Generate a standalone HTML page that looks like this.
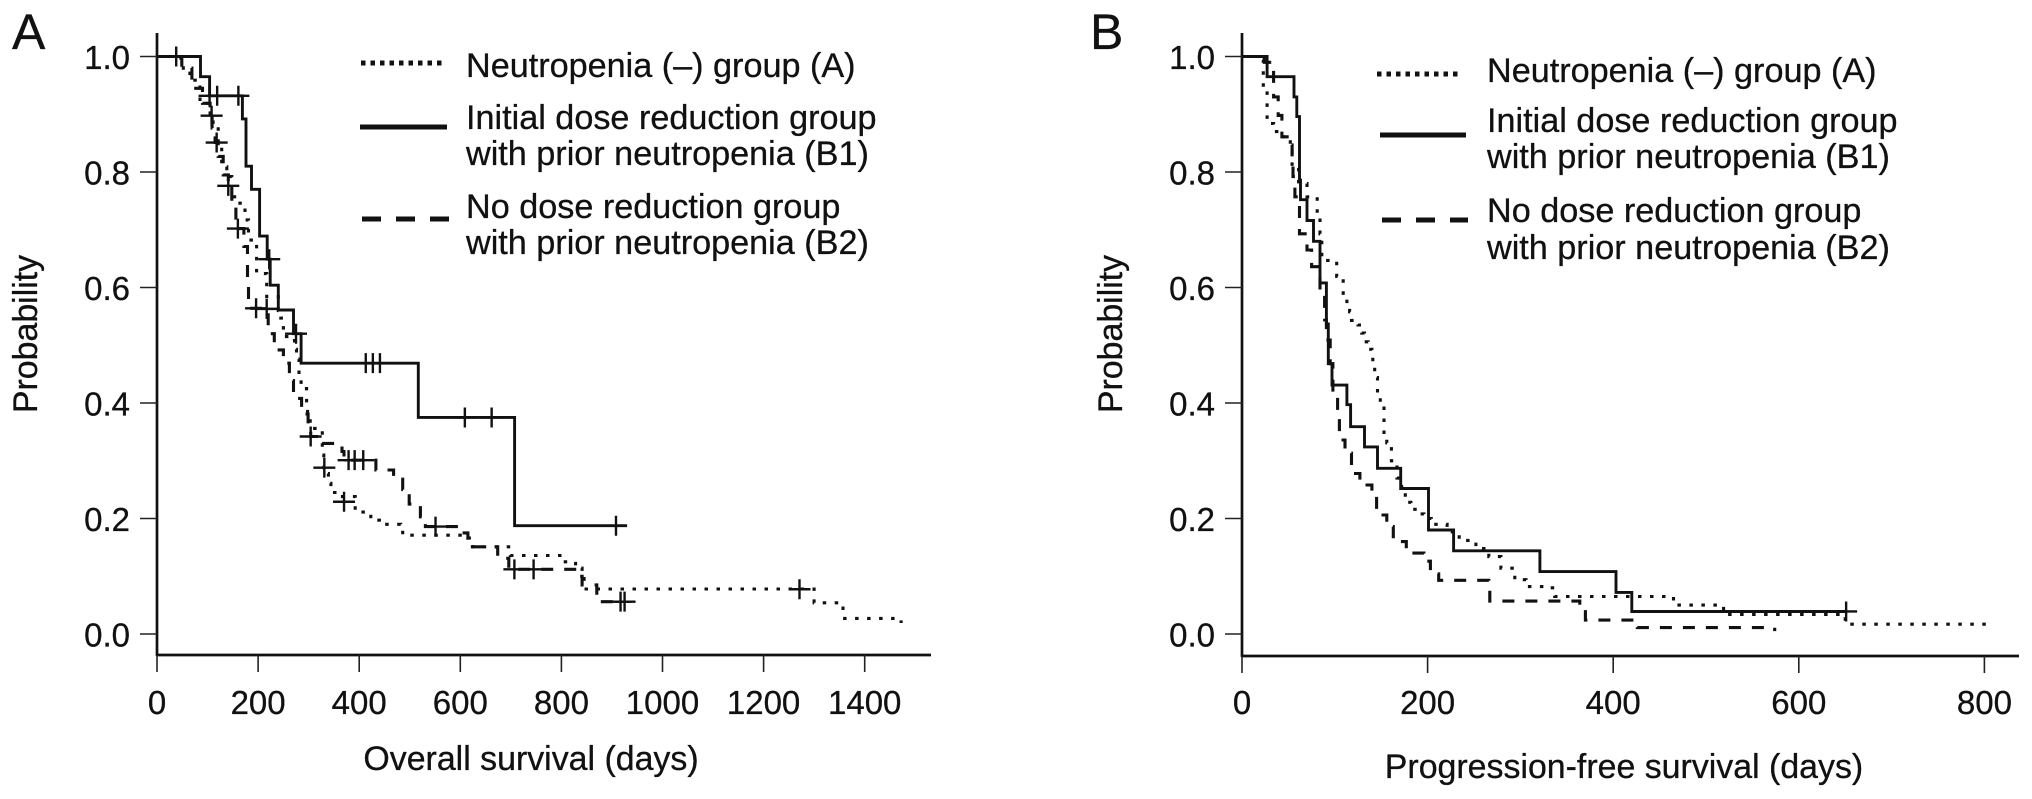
<!DOCTYPE html>
<html lang="en">
<head>
<meta charset="utf-8">
<title>Kaplan-Meier survival curves</title>
<style>
html,body{margin:0;padding:0;background:#fff;}
svg{display:block;}
text{font-family:"Liberation Sans",Arial,sans-serif;fill:#111;stroke:#111;stroke-width:.3px;}
.tick{font-size:33px;}
.title{font-size:33.9px;}
.leg{font-size:34.2px;}
.panel{font-size:50px;}
</style>
</head>
<body>
<svg id="chart" xmlns="http://www.w3.org/2000/svg" width="2032" height="799" viewBox="0 0 2032 799">
  <rect width="2032" height="799" fill="#fff"/>
  <text class="panel" x="12" y="49">A</text>
  <text class="panel" x="1090" y="49">B</text>

  <g>
    <line x1="361" x2="446" y1="63" y2="63" stroke="#111" stroke-width="5" stroke-dasharray="4.5 5"/>
    <text class="leg" x="466" y="77">Neutropenia (–) group (A)</text>
    <line x1="360" x2="447" y1="127" y2="127" stroke="#111" stroke-width="5"/>
    <text class="leg" x="466" y="129">Initial dose reduction group</text>
    <text class="leg" x="466" y="165">with prior neutropenia (B1)</text>
    <line x1="362" x2="449" y1="219" y2="219" stroke="#111" stroke-width="5" stroke-dasharray="19 15"/>
    <text class="leg" x="466" y="218">No dose reduction group</text>
    <text class="leg" x="466" y="254">with prior neutropenia (B2)</text>
  </g>

  <g>
    <line x1="1377" x2="1461" y1="74" y2="74" stroke="#111" stroke-width="5" stroke-dasharray="4.5 5"/>
    <text class="leg" x="1487" y="82">Neutropenia (–) group (A)</text>
    <line x1="1380" x2="1466" y1="135" y2="135" stroke="#111" stroke-width="5"/>
    <text class="leg" x="1487" y="132">Initial dose reduction group</text>
    <text class="leg" x="1487" y="168">with prior neutropenia (B1)</text>
    <line x1="1382" x2="1468" y1="220" y2="220" stroke="#111" stroke-width="5" stroke-dasharray="19 15"/>
    <text class="leg" x="1487" y="222">No dose reduction group</text>
    <text class="leg" x="1487" y="259">with prior neutropenia (B2)</text>
  </g>
</svg>
<script>
// Shared axis tick labels
const probTicks = ['0.0','0.2','0.4','0.6','0.8','1.0'];
const osTicks = [0,200,400,600,800,1000,1200,1400];
const pfsTicks = [0,200,400,600,800];

// Panel A: overall survival, group A (dotted)
const osADays = [39,52,65,85,105,111,121,128,138,148,164,174,181,197,217,240,245,250,272,276,281,285,296,298,303,327,330,339,344,360,392,418,423,440,482,486,591,615,624,699,699,800,803,828,841,845,1300,1300,1353,1357,1465,1472];
const osASurv = [.997,.977,.959,.919,.899,.878,.844,.809,.792,.757,.746,.717,.682,.624,.584,.56,.547,.515,.493,.476,.443,.425,.399,.38,.356,.31,.278,.261,.245,.238,.211,.209,.197,.19,.188,.171,.171,.166,.151,.151,.136,.136,.125,.114,.096,.078,.073,.054,.054,.027,.027,.019];
const osACensorDays = [370,1271];
const osACensorSurv = [.229,.0775];

// Panel A: overall survival, group B1 (solid)
const osB1Days = [86,104,169,176,187,203,218,224,240,270,285,517,707.5,930];
const osB1Surv = [.965,.932,.892,.81,.77,.689,.649,.604,.561,.52,.469,.375,.1875,.1875];
const osB1CensorDays = [38,104,119,161,222,275,413,427,441,609,662,908];
const osB1CensorSurv = [1,.932,.932,.932,.649,.52,.469,.469,.469,.375,.375,.1875];

// Panel A: overall survival, group B2 (dashed)
const osB2Days = [49,69,85,90,105,109,115,121,131,141,148,156,172,179,181,210,220,232,250,262,270,286,299,304,324,366,370,433,468,486,499,521,531,551,597,615,626,674,696,745,811,833,841,870,925];
const osB2Surv = [.98,.945,.945,.919,.8975,.876,.851,.827,.795,.776,.74,.702,.671,.607,.564,.564,.52,.492,.469,.439,.408,.381,.353,.342,.33,.316,.301,.284,.268,.25,.225,.203,.186,.186,.175,.166,.151,.131,.112,.112,.112,.1,.085,.056,.056];
const osB2CensorDays = [108,118,141,160,196,217,304,331,379,391,408,551,707,745,917,925];
const osB2CensorSurv = [.8975,.851,.776,.702,.564,.563,.342,.288,.301,.301,.301,.186,.112,.112,.056,.056];

// Panel B: progression-free survival, group A (dotted)
const pfsADays = [19,23,27,34,41,52,54,61,70,81,84,86,102,109,113,116,118,125,129,132,136,140,141,143,146,146,149,153,153,156,161,161,167,172,176,182,190,196,204,216,221,234,248,252,266,279,294,306,329,337,460,465,518,519,646,650,806];
const pfsASurv = [.994,.942,.884,.87,.861,.844,.809,.78,.757,.728,.693,.647,.619,.59,.571,.558,.543,.535,.521,.506,.493,.479,.461,.444,.429,.413,.397,.382,.346,.331,.317,.3,.27,.249,.228,.216,.208,.2,.19,.19,.177,.162,.162,.148,.134,.114,.094,.082,.08,.065,.065,.05,.05,.034,.034,.017,.017];

// Panel B: progression-free survival, group B1 (solid)
const pfsB1Days = [27,56,59,62,63,70,77,84,91,93,97,113,117,132,146,171,201,228,321,403,420,651];
const pfsB1Surv = [.965,.93,.896,.786,.752,.716,.68,.608,.537,.468,.431,.397,.359,.324,.287,.252,.18,.144,.108,.072,.039,.039];
const pfsB1CensorDays = [651];
const pfsB1CensorSurv = [.039];

// Panel B: progression-free survival, group B2 (dashed)
const pfsB2Days = [24,34,39,43,52,54,55,57,62,70,75,84,89,91,95,98,103,105,111,118,127,140,145,156,163,177,196,203,212,253,266,267,357,364,370,412,426,574];
const pfsB2Surv = [.99,.93,.898,.861,.847,.827,.792,.757,.693,.665,.636,.59,.544,.509,.468,.417,.382,.336,.313,.278,.258,.238,.206,.186,.16,.14,.126,.104,.093,.093,.079,.057,.057,.042,.024,.024,.011,.005];

const NS = 'http://www.w3.org/2000/svg';
const svg = document.getElementById('chart');

function make(tag, parent) {
  const el = document.createElementNS(NS, tag);
  parent.appendChild(el);
  return el;
}
function setAttrs(el, attrs) {
  for (const k in attrs) el.setAttribute(k, attrs[k]);
}
function scaleX(cfg, d) { return cfg.x0 + cfg.pxPerDay * d; }
function scaleY(cfg, p) { return cfg.y0 - cfg.pxPerUnit * p; }

function drawAxes(cfg, prefix, xTicks, xTitle) {
  const g = make('g', svg);
  
  

  const yAxis = make('line', g);
  
  
  setAttrs(yAxis, {x1: cfg.x0, x2: cfg.x0, y1: 33, y2: cfg.axisY + 1, stroke: '#111', 'stroke-width': 2.7});

  const xAxis = make('line', g);
  
  
  setAttrs(xAxis, {x1: cfg.x0, x2: cfg.axisEnd, y1: cfg.axisY, y2: cfg.axisY, stroke: '#111', 'stroke-width': 2.7});

  probTicks.forEach(function (label) {
    const y = scaleY(cfg, parseFloat(label));
    const tick = make('line', g);
    
    
    setAttrs(tick, {x1: cfg.x0 - 17, x2: cfg.x0, y1: y, y2: y, stroke: '#222', 'stroke-width': 1.6});
    const text = make('text', g);
    
    
    setAttrs(text, {x: cfg.x0 - 27, y: y + 12.5, 'text-anchor': 'end', class: 'tick'});
    text.textContent = label;
  });

  xTicks.forEach(function (value) {
    const x = scaleX(cfg, value);
    const tick = make('line', g);
    
    
    setAttrs(tick, {x1: x, x2: x, y1: cfg.axisY, y2: cfg.axisY + 17, stroke: '#222', 'stroke-width': 1.6});
    const text = make('text', g);
    
    
    setAttrs(text, {x: x, y: 714, 'text-anchor': 'middle', class: 'tick'});
    text.textContent = value;
  });

  const xt = make('text', g);
  
  
  setAttrs(xt, {x: cfg.titleX, y: cfg.titleY, 'text-anchor': 'middle', class: 'title'});
  xt.textContent = xTitle;

  const yt = make('text', g);
  
  
  setAttrs(yt, {transform: 'translate(' + cfg.yTitleX + ',334) rotate(-90)', 'text-anchor': 'middle', class: 'title'});
  yt.textContent = 'Probability';
}

function drawCurve(cfg, name, days, surv, dash) {
  let d = 'M' + scaleX(cfg, 0) + ' ' + scaleY(cfg, 1);
  days.forEach(function (day, i) {
    d += 'H' + scaleX(cfg, day).toFixed(1) + 'V' + scaleY(cfg, surv[i]).toFixed(1);
  });
  const path = make('path', svg);
  
  
  setAttrs(path, {d: d, fill: 'none', stroke: '#111', 'stroke-width': dash === 'none' ? 2.9 : 3.1});
  if (dash !== 'none') path.setAttribute('stroke-dasharray', dash);
}

function drawCensors(cfg, name, days, surv) {
  days.forEach(function (day, i) {
    const x = scaleX(cfg, day);
    const y = scaleY(cfg, surv[i]);
    const mark = make('path', svg);
    
    
    setAttrs(mark, {d: 'M' + (x - 11) + ' ' + y + 'H' + (x + 11) + 'M' + x + ' ' + (y - 10) + 'V' + (y + 10), fill: 'none', stroke: '#111', 'stroke-width': 2.4});
  });
}

const cfgA = {x0: 157, pxPerDay: 0.5055, y0: 634, pxPerUnit: 577.5, axisY: 655, axisEnd: 931, titleX: 531, titleY: 770, yTitleX: 37};
const cfgB = {x0: 1242, pxPerDay: 0.928, y0: 634, pxPerUnit: 577.5, axisY: 656, axisEnd: 2019, titleX: 1624, titleY: 778, yTitleX: 1122};
const DOT = '3.5 8.5';
const DASH = '12 11';

drawAxes(cfgA, 'panel-a', osTicks, 'Overall survival (days)');
drawCurve(cfgA, 'os-curve-group-a', osADays, osASurv, DOT);
drawCurve(cfgA, 'os-curve-group-b2', osB2Days, osB2Surv, DASH);
drawCurve(cfgA, 'os-curve-group-b1', osB1Days, osB1Surv, 'none');
drawCensors(cfgA, 'os-censor-group-a', osACensorDays, osACensorSurv);
drawCensors(cfgA, 'os-censor-group-b2', osB2CensorDays, osB2CensorSurv);
drawCensors(cfgA, 'os-censor-group-b1', osB1CensorDays, osB1CensorSurv);

drawAxes(cfgB, 'panel-b', pfsTicks, 'Progression-free survival (days)');
drawCurve(cfgB, 'pfs-curve-group-a', pfsADays, pfsASurv, DOT);
drawCurve(cfgB, 'pfs-curve-group-b2', pfsB2Days, pfsB2Surv, DASH);
drawCurve(cfgB, 'pfs-curve-group-b1', pfsB1Days, pfsB1Surv, 'none');
drawCensors(cfgB, 'pfs-censor-group-b1', pfsB1CensorDays, pfsB1CensorSurv);
</script>
</body>
</html>
